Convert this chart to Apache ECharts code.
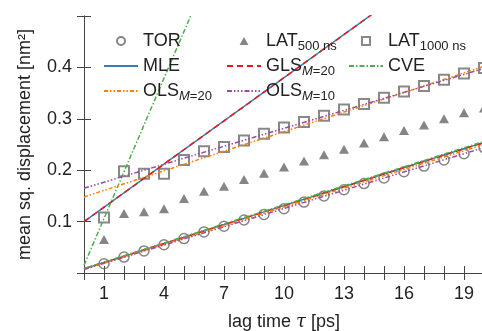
<!DOCTYPE html>
<html>
<head>
<meta charset="utf-8">
<script src="https://cdn.jsdelivr.net/npm/echarts@6/dist/echarts.min.js"></script>
<style>
html,body{margin:0;padding:0;background:#fff;}
#chart{width:482px;height:331px;}
</style>
</head>
<body>
<div id="chart"></div>
<script>
// ---- data ----
const lagTimes = [1,2,3,4,5,6,7,8,9,10,11,12,13,14,15,16,17,18,19,20];
const torMsd = [0.018,0.031,0.043,0.055,0.067,0.080,0.091,0.103,0.114,0.125,0.138,0.150,0.162,0.174,0.185,0.197,0.208,0.220,0.232,0.244];
const lat500Msd = [0.065,0.116,0.119,0.125,0.145,0.159,0.169,0.182,0.194,0.206,0.218,0.230,0.241,0.253,0.265,0.277,0.288,0.300,0.312,0.321];
const lat1000Msd = [0.108,0.198,0.193,0.193,0.220,0.237,0.245,0.258,0.271,0.283,0.294,0.306,0.318,0.329,0.341,0.353,0.364,0.376,0.388,0.399];
const fitX = [0, 20];
const mleTor = [0.008, 0.254];
const mleLat = [0.100, 0.660];
const glsTor = [0.008, 0.254];
const glsLat = [0.100, 0.660];
const cveTor = [0.009, 0.256];
const cveLat = [0.015, 1.835];
const ols20Tor = [0.007, 0.250];
const ols20Lat = [0.148, 0.402];
const ols10Tor = [0.007, 0.244];
const ols10Lat = [0.165, 0.398];
const xTickLabels = [1,4,7,10,13,16,19];
const yTickLabels = [0.1,0.2,0.3,0.4];

const FONT = 'Liberation Sans';
const TXT = '#222';
const AX = '#444';
const pts = (xs, ys) => xs.map((x, i) => [x, ys[i]]);

function lineSeries(name, ys, color, type) {
  return {
    name: name, type: 'line', data: pts(fitX, ys), symbol: 'none', clip: true,
    lineStyle: {color: color, width: 1.5, type: type}, itemStyle: {color: color},
    emphasis: {disabled: true}, animation: false, z: 3
  };
}

const rich = {
  m: {fontSize: 18, fontFamily: FONT, color: TXT, lineHeight: 24},
  s: {fontSize: 13, fontFamily: FONT, color: TXT, lineHeight: 12, verticalAlign: 'bottom'},
  si: {fontSize: 13, fontFamily: FONT, color: TXT, lineHeight: 12, verticalAlign: 'bottom', fontStyle: 'italic'}
};
const legendFmt = {
  'TOR': '{m|TOR}',
  'LAT500': '{m|LAT}{s|500 ns}',
  'LAT1000': '{m|LAT}{s|1000 ns}',
  'MLE': '{m|MLE}',
  'GLS': '{m|GLS}{si|M}{s|=20}',
  'CVE': '{m|CVE}',
  'OLS20': '{m|OLS}{si|M}{s|=20}',
  'OLS10': '{m|OLS}{si|M}{s|=10}'
};
const hideSym = {color: 'rgba(0,0,0,0)', borderWidth: 0, borderColor: 'rgba(0,0,0,0)'};
const legendItems = {
  'TOR': {name: 'TOR', icon: 'circle'},
  'LAT500': {name: 'LAT500', icon: 'path://M0,-1L1,0.8L-1,0.8Z'},
  'LAT1000': {name: 'LAT1000', icon: 'path://M-1,-1L1,-1L1,1L-1,1Z'},
  'MLE': {name: 'MLE', itemStyle: hideSym},
  'GLS': {name: 'GLS', itemStyle: hideSym},
  'CVE': {name: 'CVE', itemStyle: hideSym},
  'OLS20': {name: 'OLS20', itemStyle: hideSym},
  'OLS10': {name: 'OLS10', itemStyle: hideSym}
};
function legend(left, names) {
  return {
    left: left, top: 29, orient: 'vertical', padding: 0, itemGap: 1,
    itemWidth: 34, itemHeight: 8, symbolKeepAspect: true,
    data: names.map(n => legendItems[n]), selectedMode: false,
    formatter: n => legendFmt[n],
    textStyle: {fontSize: 18, fontFamily: FONT, color: TXT, lineHeight: 24, rich: rich}
  };
}

const axisCommon = {
  axisLine: {show: true, lineStyle: {color: AX, width: 1}},
  axisTick: {show: true, inside: true, length: 7, lineStyle: {color: AX, width: 1}},
  splitLine: {show: false}
};

const option = {
  backgroundColor: '#fff',
  animation: false,
  textStyle: {fontFamily: FONT},
  grid: {left: 84, top: 16, width: 400, height: 257, containLabel: false, outerBoundsMode: 'none'},
  legend: [
    legend(103, ['TOR', 'MLE', 'OLS20']),
    legend(226, ['LAT500', 'GLS', 'OLS10']),
    legend(348, ['LAT1000', 'CVE'])
  ],
  xAxis: [
    Object.assign({
      type: 'value', min: 0, max: 20, interval: 1, position: 'bottom',
      name: 'lag time {i|τ} [ps]', nameLocation: 'middle', nameGap: 40,
      nameTextStyle: {fontSize: 18, fontFamily: FONT, color: TXT,
        rich: {i: {fontSize: 18, fontFamily: 'DejaVu Serif', fontStyle: 'italic', color: TXT}}},
      axisLabel: {fontSize: 18, fontFamily: FONT, color: TXT, margin: 12,
        formatter: v => xTickLabels.indexOf(v) >= 0 ? String(v) : ''}
    }, axisCommon),
    Object.assign({
      type: 'value', min: 0, max: 20, interval: 1, position: 'top',
      axisLabel: {show: false}
    }, axisCommon)
  ],
  yAxis: [
    Object.assign({
      type: 'value', min: 0, max: 0.5, interval: 0.1, position: 'left',
      name: 'mean sq. displacement [nm²]', nameLocation: 'middle', nameGap: 50,
      nameTextStyle: {fontSize: 18, fontFamily: FONT, color: TXT},
      axisLabel: {fontSize: 18, fontFamily: FONT, color: TXT, margin: 12,
        formatter: v => {
          const r = Math.round(v * 10) / 10;
          return yTickLabels.indexOf(r) >= 0 ? r.toFixed(1) : '';
        }}
    }, axisCommon),
    Object.assign({
      type: 'value', min: 0, max: 0.5, interval: 0.1, position: 'right',
      axisLabel: {show: false}
    }, axisCommon)
  ],
  series: [
    {name: 'TOR', type: 'scatter', data: pts(lagTimes, torMsd), symbol: 'circle', symbolSize: 10,
     itemStyle: {color: 'rgba(255,255,255,0)', borderColor: '#666', borderWidth: 1.5}, z: 2},
    {name: 'LAT500', type: 'scatter', data: pts(lagTimes, lat500Msd), symbol: 'triangle', symbolSize: [10, 9],
     itemStyle: {color: '#666'}, z: 2},
    {name: 'LAT1000', type: 'scatter', data: pts(lagTimes, lat1000Msd), symbol: 'rect', symbolSize: 10,
     itemStyle: {color: 'rgba(255,255,255,0)', borderColor: '#6a6a6a', borderWidth: 2}, z: 2},
    lineSeries('MLE', mleTor, '#377eb8', 'solid'),
    lineSeries('MLE', mleLat, '#377eb8', 'solid'),
    lineSeries('GLS', glsTor, '#e41a1c', [6, 4]),
    lineSeries('GLS', glsLat, '#e41a1c', [6, 4]),
    lineSeries('CVE', cveTor, '#4daf4a', [5, 2, 1.5, 2]),
    lineSeries('CVE', cveLat, '#4daf4a', [5, 2, 1.5, 2]),
    lineSeries('OLS20', ols20Tor, '#ff7f00', [4, 2, 1.5, 2, 1.5, 2]),
    lineSeries('OLS20', ols20Lat, '#ff7f00', [4, 2, 1.5, 2, 1.5, 2]),
    lineSeries('OLS10', ols10Tor, '#984ea3', [5, 2, 1.5, 2, 1.5, 2, 1.5, 2]),
    lineSeries('OLS10', ols10Lat, '#984ea3', [5, 2, 1.5, 2, 1.5, 2, 1.5, 2])
  ]
};
const chart = echarts.init(document.getElementById('chart'), null, {renderer: 'canvas'});
chart.setOption(option);
</script>
</body>
</html>
